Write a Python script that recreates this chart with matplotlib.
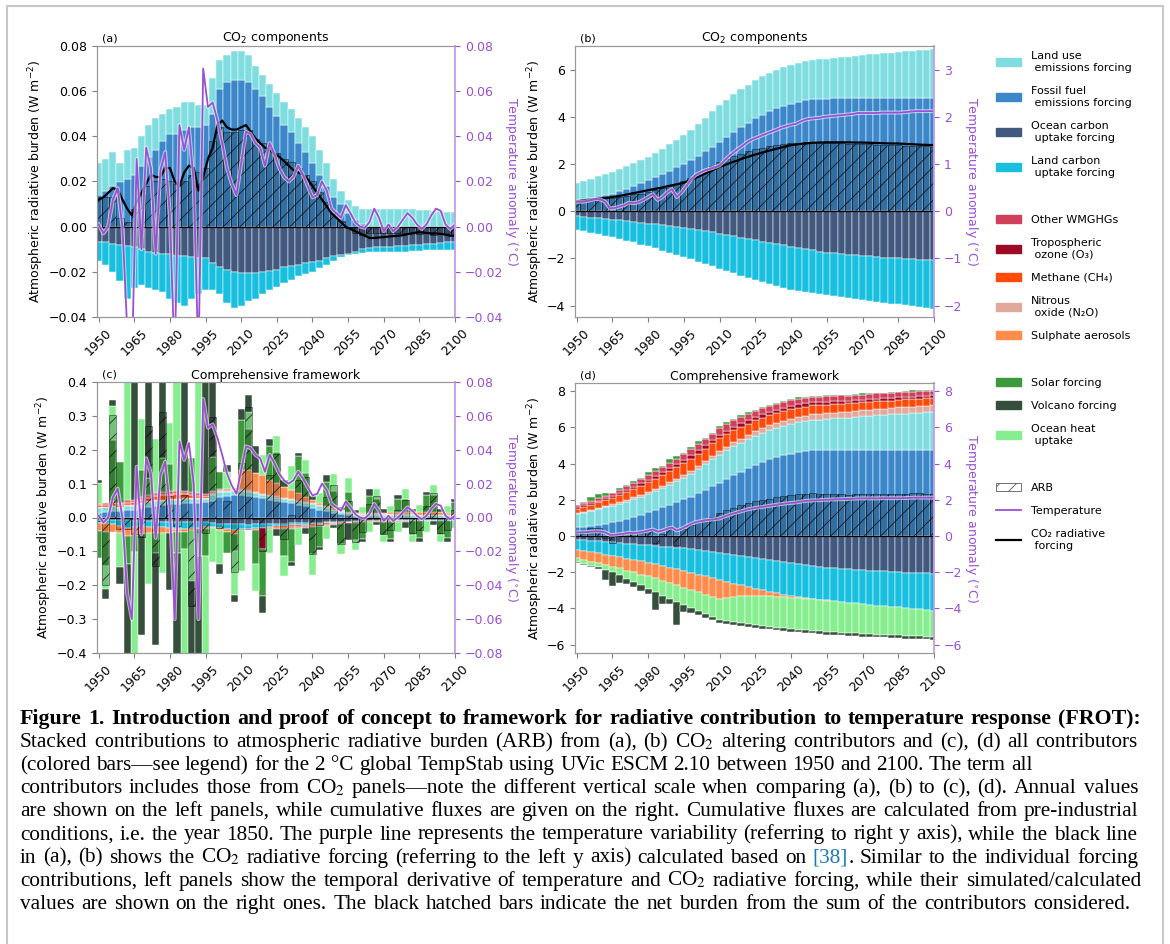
import numpy as np
import matplotlib
matplotlib.use('Agg')
import matplotlib.pyplot as plt
from matplotlib.patches import Patch, Rectangle
from matplotlib.lines import Line2D
import matplotlib.patheffects as pe

# ---------------- data ----------------
years = np.arange(1950, 2101, 3)        # bar grid (3-yr)
line_years = np.arange(1950, 2101, 2)   # line grid (2-yr)

# (a)/(c) annual CO2 components (W m-2 per yr)
fossil_a = [.014, .016, .018, .020, .021,  .023, .027, .031, .034, .038,
            .041, .041, .043, .044, .044,  .045, .050, .061, .064, .065,
            .065, .064, .061, .058, .053,  .049, .045, .042, .037, .033,
            .028, .023, .018, .013, .010,  .006, .003, .001, 0, 0,
            0, 0, 0, 0, 0,  0, 0, 0, 0, 0,  0]
landuse_a = [.014, .014, .015, .008, .013,  .012, .013, .014, .014, .012,
             .011, .012, .012, .011, .010,  .009, .016, .013, .012, .013,
             .013, .012, .010, .009, .010,  .010, .010, .010, .011, .011,
             .012, .011, .010, .008, .006,  .006, .006, .007, .008, .008,
             .008, .008, .008, .008, .008,  .0075, .0075, .007, .007, .0067,  .0067]
ocean_a = [-.0066, -.007, -.0075, -.008, -.0085,  -.009, -.010, -.011, -.0115, -.012,
           -.012, -.013, -.013, -.0135, -.014,  -.014, -.016, -.018, -.019, -.020,
           -.0205, -.0207, -.0205, -.020, -.0195,  -.019, -.018, -.0175, -.017, -.016,
           -.0155, -.015, -.014, -.013, -.0125,  -.012, -.011, -.010, -.0095, -.009,
           -.009, -.0088, -.0086, -.0084, -.008,  -.008, -.0078, -.0075, -.0072, -.007,  -.0068]
landup_a = [-.0084, -.010, -.0125, -.016, -.0235,  -.018, -.016, -.016, -.0165, -.017,
            -.020, -.021, -.022, -.0185, -.016,  -.014, -.012, -.012, -.015, -.016,
            -.0145, -.0123, -.0115, -.010, -.0085,  -.0075, -.007, -.006, -.005, -.005,
            -.0045, -.0035, -.003, -.002, -.001,  -.0005, -.001, -.0015, -.0015, -.002,
            -.002, -.0022, -.0024, -.0026, -.0028,  -.0027, -.0027, -.003, -.0032, -.0033,  -.0035]

# (c) other annual contributors
n2o_c = [.002, .002, .002, .002, .002,  .002, .003, .003, .003, .003,
         .003, .003, .003, .003, .003,  .003, .003, .003, .003, .003,
         .003, .003, .003, .003, .003,  .003, .002, .002, .002, .002,
         .002, .002, .002, .002, .002,  .002, .001, .001, .001, .001,
         .001, .001, .001, .001, .001,  .001, .001, .001, .001, .001,  .001]
ch4_c = [.006, .006, .007, .007, .008,  .008, .009, .010, .011, .012,
         .012, .012, .011, .009, .007,  .005, .004, .003, .003, .003,
         .003, .002, .000, -.002, -.003,  -.004, -.005, -.005, -.005, -.005,
         -.005, -.005, -.004, -.004, -.003,  -.003, -.002, -.002, -.002, -.001,
         -.001, -.001, -.001, -.001, -.001,  -.001, -.001, -.001, -.001, -.001,  -.001]
o3_c = [.002, .002, .002, .002, .002,  .002, .003, .003, .003, .003,
        .003, .003, .003, .003, .002,  .002, .002, .002, .001, .001,
        -.003, -.003, -.003, -.06, -.003,  -.003, -.003, -.003, -.003, -.003,
        -.003, -.002, -.002, -.001, -.001,  -.001, -.001, 0, 0, 0,
        0, 0, 0, 0, 0,  0, 0, 0, 0, 0,  0]
other_c = [.003, .003, .004, .004, .005,  .005, .006, .006, .007, .007,
           .008, .008, .007, .006, .005,  .004, .003, .002, .001, .001,
           .000, .000, -.001, -.001, -.001,  -.001, -.001, -.001, -.001, -.001,
           -.001, -.001, -.001, -.001, -.001,  -.001, 0, 0, 0, 0,
           0, 0, 0, 0, 0,  0, 0, 0, 0, 0,  0]
sulph_c = [-.026, -.025, -.024, -.023, -.024,  -.025, -.022, -.020, -.018, -.016,
           -.013, -.010, -.008, -.006, -.005,  -.005, -.004, -.006, -.010, -.012,
           .055, .060, .058, .055, .045,  .040, .033, .027, .021, .015,
           .010, .007, .005, .004, .003,  .002, .002, .003, .004, .005,
           .005, .006, .006, .006, .006,  .007, .007, .007, .007, .007,  .007]
solar_c = [-.08, -.10, .18, .12, -.08,  -.05, .08, .05, -.06, .10,
           .08, -.06, -.05, .10, -.08,  -.08, .10, .05, -.06, -.05,
           .15, .12, -.10, -.14, .10,  .09, -.08, -.10, .11, .07,
           -.08, -.06, .07, .05, -.06,  .06, -.05, -.05, .05, .04,
           -.04, -.05, .04, .04, -.04,  -.05, .05, .05, -.04, -.05,  .03]
volc_c = [.01, -.03, .02, -.05, -.40,  .45, -.30, .35, -.27, .30,
          -.17, -.45, .45, -.25, -.45,  .45, .25, -.03, .02, -.02,
          .03, .05, .08, -.05, .02,  -.02, .02, -.01, .01, -.02,
          .01, -.01, .02, -.01, .01,  -.05, .01, -.01, .02, -.01,
          .01, -.01, .01, -.02, .01,  -.01, .01, -.01, .01, -.01,  .01]
ohu_c = [.06, -.07, .10, -.10, .45,  -.45, .15, -.15, .16, -.12,
         .12, .45, -.37, -.15, .45,  -.45, -.10, -.10, .05, -.13,
         -.12, .05, -.08, .06, -.07,  .05, -.06, .07, -.05, .04,
         -.06, .03, -.04, .05, -.03,  .04, -.03, .02, -.03, .03,
         -.02, .02, -.03, .03, -.02,  .02, -.03, .03, -.02, .02,  -.02]

# (b)/(d) cumulative CO2 components (W m-2)
fossil_b = [.47, .52, .57, .63, .69,  .75, .84, .95, 1.06, 1.18,
            1.31, 1.44, 1.58, 1.72, 1.86,  2.02, 2.18, 2.36, 2.54, 2.74,
            2.94, 3.15, 3.36, 3.56, 3.75,  3.93, 4.09, 4.23, 4.36, 4.47,
            4.56, 4.64, 4.70, 4.74, 4.76,  4.77, 4.78, 4.78, 4.78, 4.78,
            4.78, 4.78, 4.78, 4.78, 4.78,  4.78, 4.78, 4.78, 4.78, 4.78,  4.78]
landuse_b = [.73, .77, .81, .85, .89,  .92, .94, .95, .97, .98,
             .99, 1.03, 1.07, 1.11, 1.16,  1.20, 1.27, 1.35, 1.42, 1.50,
             1.56, 1.58, 1.59, 1.60, 1.61,  1.62, 1.62, 1.62, 1.62, 1.63,
             1.63, 1.64, 1.65, 1.67, 1.68,  1.70, 1.72, 1.75, 1.77, 1.80,
             1.83, 1.86, 1.89, 1.91, 1.94,  1.97, 1.99, 2.01, 2.04, 2.06,  2.08]
ocean_b = [-.21, -.24, -.27, -.29, -.32,  -.35, -.38, -.42, -.45, -.49,
           -.52, -.55, -.59, -.62, -.65,  -.69, -.74, -.79, -.84, -.90,
           -.95, -1.01, -1.06, -1.12, -1.17,  -1.23, -1.29, -1.34, -1.40, -1.45,
           -1.51, -1.56, -1.61, -1.66, -1.71,  -1.75, -1.78, -1.81, -1.84, -1.87,
           -1.89, -1.91, -1.94, -1.96, -1.98,  -2.00, -2.02, -2.03, -2.05, -2.07,  -2.08]
landup_b = [-.57, -.60, -.64, -.67, -.71,  -.74, -.78, -.83, -.87, -.92,
            -.96, -1.02, -1.08, -1.14, -1.20,  -1.25, -1.30, -1.35, -1.39, -1.44,
            -1.48, -1.52, -1.57, -1.61, -1.65,  -1.69, -1.72, -1.75, -1.77, -1.79,
            -1.81, -1.81, -1.81, -1.81, -1.81,  -1.81, -1.82, -1.83, -1.85, -1.86,
            -1.88, -1.89, -1.91, -1.92, -1.93,  -1.95, -1.97, -1.99, -2.00, -2.02,  -2.04]

# (d) other cumulative contributors
n2o_d = [.06, .06, .07, .07, .08,  .08, .09, .10, .11, .11,
         .12, .13, .14, .14, .15,  .16, .17, .18, .18, .19,
         .20, .21, .22, .23, .24,  .25, .26, .27, .27, .28,
         .29, .30, .30, .31, .31,  .32, .32, .33, .33, .34,
         .34, .34, .35, .35, .35,  .36, .36, .36, .37, .37,  .37]
ch4_d = [.25, .27, .29, .31, .33,  .35, .39, .43, .47, .51,
         .55, .57, .59, .61, .63,  .65, .66, .67, .68, .69,
         .70, .69, .67, .65, .62,  .60, .58, .56, .55, .54,
         .53, .52, .51, .50, .49,  .48, .47, .46, .45, .44,
         .44, .44, .43, .43, .42,  .42, .42, .41, .41, .40,  .40]
o3_d = [.08, .08, .09, .09, .10,  .10, .11, .12, .12, .13,
        .14, .15, .15, .16, .16,  .17, .18, .18, .19, .19,
        .20, .20, .20, .20, .20,  .20, .20, .19, .19, .18,
        .18, .18, .17, .17, .16,  .16, .16, .16, .15, .15,
        .15, .15, .15, .14, .14,  .14, .14, .14, .14, .14,  .14]
other_d = [.10, .11, .12, .13, .14,  .15, .17, .19, .21, .23,
           .25, .27, .29, .30, .32,  .33, .34, .34, .35, .35,
           .36, .36, .35, .34, .33,  .32, .32, .31, .31, .31,
           .31, .30, .30, .30, .29,  .29, .29, .29, .28, .28,
           .28, .28, .28, .27, .27,  .27, .27, .27, .27, .27,  .27]
sulph_d = [-.46, -.49, -.52, -.54, -.57,  -.60, -.63, -.66, -.69, -.72,
           -.75, -.78, -.82, -.85, -.88,  -.92, -.95, -.98, -1.01, -1.03,
           -1.05, -.90, -.75, -.60, -.50,  -.40, -.32, -.25, -.19, -.14,
           -.10, -.07, -.05, -.03, -.02,  -.01, 0, 0, 0, 0,
           0, 0, 0, 0, 0,  0, 0, 0, 0, 0,  0]
solar_d = [.03, .08, .20, .22, .12,  .05, .10, .10, .08, .08,
           .18, .15, .05, .20, .15,  .05, .10, .15, .08, .05,
           .10, .12, .08, .10, .10,  .06, .06, .05, .08, .06,
           .06, .08, .08, .05, .04,  .05, .05, .04, .04, .06,
           .06, .04, .04, .05, .05,  .04, .05, .08, .06, .04,  .04]
ohu_d = [-.20, -.21, -.22, -.24, -.26,  -.30, -.37, -.45, -.52, -.60,
         -.70, -.76, -.81, -.86, -.90,  -.95, -.98, -1.01, -1.06, -1.10,
         -1.15, -1.27, -1.39, -1.47, -1.54,  -1.60, -1.64, -1.68, -1.70, -1.72,
         -1.74, -1.74, -1.74, -1.74, -1.73,  -1.72, -1.71, -1.70, -1.68, -1.66,
         -1.64, -1.62, -1.60, -1.58, -1.57,  -1.54, -1.53, -1.52, -1.50, -1.48,  -1.47]
volc_d = [-.05, -.05, -.08, -.10, -.60,  -.80, -.45, -.30, -.28, -.30,
          -.28, -1.00, -.45, -.30, -1.30,  -.40, -.30, -.25, -.22, -.20,
          -.18, -.17, -.16, -.16, -.15,  -.15, -.16, -.15, -.15, -.16,
          -.15, -.15, -.16, -.15, -.15,  -.16, -.15, -.15, -.16, -.15,
          -.15, -.16, -.15, -.15, -.16,  -.15, -.15, -.16, -.15, -.15,  -.16]

# lines (2-yr grid): temperature derivative, temperature, CO2 RF derivative
dT = [.001, -.003, .000, .012, .017, .000, -.045, -.06, .030, -.010, .035, .026, -.012,
      .025, .033, .005, -.06, .045, .034, .044, .020, -.06, .070, .053, .055,
      .047, .037, .026, .019, .014, .028, .042, .041, .037, .035, .027, .037, .032,
      .026, .022, .020, .022, .027, .023, .018, .013, .014, .020, .016, .008,
      .006, .004, .0095, .006, .002, .000, -.0005, .002, .008, .004, -.002, .001, -.002,
      .000, .003, .006, .004, .001, -.001, .001, .005, .008, .007, .001, -.001, .001]
T = [.20, .20, .21, .24, .26, .25, .20, .06, .07, .10, .13, .18, .17,
     .19, .24, .30, .36, .24, .30, .40, .47, .30, .40, .53, .67,
     .77, .82, .87, .90, .93, .97, 1.07, 1.17, 1.25, 1.33, 1.40, 1.48, 1.53,
     1.57, 1.61, 1.65, 1.69, 1.73, 1.77, 1.80, 1.83, 1.85, 1.90, 1.94, 1.96,
     1.97, 1.98, 2.00, 2.01, 2.02, 2.03, 2.04, 2.05, 2.06, 2.08, 2.08, 2.08, 2.08,
     2.08, 2.09, 2.09, 2.09, 2.09, 2.09, 2.10, 2.11, 2.12, 2.12, 2.12, 2.12, 2.12]
dRF = [.012, .013, .015, .017, .0165, .012, .008, .005, .011, .015, .019, .023, .022,
       .022, .026, .026, .020, .018, .024, .027, .026, .016, .022, .030, .035,
       .045, .047, .044, .043, .043, .044, .045, .042, .039, .037, .035, .034, .032,
       .031, .029, .027, .025, .024, .023, .021, .018, .015, .012, .009, .006,
       .004, .002, .000, -.001, -.002, -.003, -.004, -.005, -.005, -.0048, -.0046, -.0044, -.0042,
       -.004, -.0038, -.0033, -.003, -.0025, -.0025, -.0028, -.003, -.003, -.0032, -.0035, -.004, -.004]
# CO2 radiative forcing, cumulative (3-yr grid)
RF = [.42, .46, .50, .53, .56,  .60, .65, .71, .77, .83,
      .89, .95, 1.01, 1.08, 1.14,  1.21, 1.33, 1.46, 1.60, 1.74,
      1.88, 1.99, 2.10, 2.21, 2.31,  2.40, 2.49, 2.57, 2.65, 2.73,
      2.80, 2.84, 2.87, 2.90, 2.91,  2.92, 2.92, 2.92, 2.92, 2.91,
      2.91, 2.90, 2.89, 2.88, 2.87,  2.87, 2.85, 2.84, 2.82, 2.81,  2.80]

# ---------------- styling ----------------
c_landuse = '#7fdde0'
c_fossil = '#3b87c9'
c_ocean = '#41597f'
c_landup = '#18bfdf'
c_other = '#d0405a'
c_o3 = '#9e0a25'
c_ch4 = '#ff4a0a'
c_n2o = '#e1a99c'
c_sulph = '#ff8c4a'
c_solar = '#3c9a3c'
c_volc = '#354f3c'
c_ohu = '#87ee90'
c_temp = '#9a4fd4'
c_tspine = '#c59ee6'

plt.rcParams['hatch.linewidth'] = 0.6
plt.rcParams['axes.unicode_minus'] = True

W, H = 1170, 944
fig = plt.figure(figsize=(W / 100, H / 100), dpi=100)


def px_axes(l, t, r, b):
    return fig.add_axes([l / W, 1 - b / H, (r - l) / W, (b - t) / H])


def draw_stack(ax, comps):
    pos = np.zeros(len(years))
    neg = np.zeros(len(years))
    for vals, col in comps:
        v = np.asarray(vals, float)
        up = np.clip(v, 0, None)
        dn = np.clip(v, None, 0)
        m = up > 0
        ax.bar(years[m], up[m], width=3, bottom=pos[m], color=col,
               edgecolor='white', linewidth=0.35)
        m = dn < 0
        ax.bar(years[m], dn[m], width=3, bottom=neg[m], color=col,
               edgecolor='white', linewidth=0.35)
        pos += up
        neg += dn
    net = np.sum([np.asarray(v, float) for v, _ in comps], axis=0)
    ax.bar(years, net, width=3, color=(0, 0, 0, 0.18), edgecolor=(0, 0, 0, 0.75),
           hatch='//', linewidth=0.4)
    ax.axhline(0, color='black', lw=0.9)


def style(ax, ylim, rylim, yticks, ryticks, title, letter, label_x, rlabel_x):
    axr = ax.twinx()
    ax.set_xlim(1949.3, 2100)
    ax.set_ylim(*ylim)
    axr.set_ylim(*rylim)
    ax.set_xticks(np.arange(1950, 2101, 15))
    ax.set_yticks(yticks)
    axr.set_yticks(ryticks)
    ax.tick_params(axis='x', labelrotation=45, labelsize=9, color='0.5', length=3.5)
    ax.tick_params(axis='y', labelsize=9, color='0.5', length=3.5)
    axr.tick_params(axis='y', labelsize=9, colors=c_temp, length=3.5)
    for a in (ax, axr):
        for sp in ('left', 'top', 'bottom'):
            a.spines[sp].set_color('0.6')
    ax.spines['right'].set_visible(False)
    axr.spines['right'].set_color(c_tspine)
    axr.spines['right'].set_linewidth(1.3)
    ax.set_ylabel('Atmospheric radiative burden (W m$^{-2}$)', fontsize=9)
    ax.yaxis.set_label_coords(label_x, 0.5)
    axr.set_ylabel('Temperature anomaly ($^{\\circ}$C)', fontsize=9, color=c_temp,
                   rotation=270, va='bottom')
    axr.yaxis.set_label_coords(rlabel_x, 0.5)
    ax.set_title(title, fontsize=9, pad=2)
    ax.text(0.015, 1.008, letter, transform=ax.transAxes, fontsize=8, va='bottom')
    return axr


halo = [pe.withStroke(linewidth=2.8, foreground='white', alpha=0.6)]

# (a)
ax_a = px_axes(97, 46, 455, 317)
draw_stack(ax_a, [(fossil_a, c_fossil), (landuse_a, c_landuse),
                  (ocean_a, c_ocean), (landup_a, c_landup)])
axr_a = style(ax_a, (-0.04, 0.08), (-0.04, 0.08), np.round(np.arange(-0.04, 0.081, 0.02), 2),
              np.round(np.arange(-0.04, 0.081, 0.02), 2), 'CO$_2$ components', '(a)',
              -0.142, 1.134)
ax_a.plot(line_years, dRF, color='black', lw=1.6, zorder=5)
axr_a.plot(line_years, dT, color=c_temp, lw=1.3, path_effects=halo)

# (b)
ax_b = px_axes(575, 46, 934, 317)
draw_stack(ax_b, [(fossil_b, c_fossil), (landuse_b, c_landuse),
                  (ocean_b, c_ocean), (landup_b, c_landup)])
axr_b = style(ax_b, (-4.48, 7.0), (-2.24, 3.5), [-4, -2, 0, 2, 4, 6], [-2, -1, 0, 1, 2, 3],
              'CO$_2$ components', '(b)', -0.084, 1.081)
ax_b.plot(years, RF, color='black', lw=1.6, zorder=5)
axr_b.plot(line_years, T, color=c_temp, lw=1.3, path_effects=halo)

# (c)
ax_c = px_axes(97, 382, 455, 653)
draw_stack(ax_c, [(fossil_a, c_fossil), (landuse_a, c_landuse),
                  (ocean_a, c_ocean), (landup_a, c_landup),
                  (n2o_c, c_n2o), (ch4_c, c_ch4), (o3_c, c_o3), (other_c, c_other),
                  (sulph_c, c_sulph), (solar_c, c_solar), (ohu_c, c_ohu), (volc_c, c_volc)])
axr_c = style(ax_c, (-0.4, 0.4), (-0.08, 0.08), np.round(np.arange(-0.4, 0.41, 0.1), 1),
              np.round(np.arange(-0.08, 0.081, 0.02), 2), 'Comprehensive framework', '(c)',
              -0.12, 1.134)
axr_c.plot(line_years, dT, color=c_temp, lw=1.3, path_effects=halo)

# (d)
ax_d = px_axes(575, 383, 934, 653)
draw_stack(ax_d, [(fossil_b, c_fossil), (landuse_b, c_landuse),
                  (ocean_b, c_ocean), (landup_b, c_landup),
                  (n2o_d, c_n2o), (ch4_d, c_ch4), (o3_d, c_o3), (other_d, c_other),
                  (sulph_d, c_sulph), (solar_d, c_solar), (ohu_d, c_ohu), (volc_d, c_volc)])
axr_d = style(ax_d, (-6.47, 8.46), (-6.47, 8.46), np.arange(-6, 9, 2), np.arange(-6, 9, 2),
              'Comprehensive framework', '(d)', -0.084, 1.081)
axr_d.plot(line_years, T, color=c_temp, lw=1.3, path_effects=halo)

# legend
spacer = Patch(facecolor='none', edgecolor='none')
handles = [Patch(color=c_landuse), Patch(color=c_fossil), Patch(color=c_ocean), Patch(color=c_landup),
           spacer,
           Patch(color=c_other), Patch(color=c_o3), Patch(color=c_ch4), Patch(color=c_n2o),
           Patch(color=c_sulph),
           spacer,
           Patch(color=c_solar), Patch(color=c_volc), Patch(color=c_ohu),
           spacer,
           Patch(facecolor='white', edgecolor='0.35', hatch='//', linewidth=0.6),
           Line2D([], [], color=c_temp, lw=1.3), Line2D([], [], color='black', lw=1.6)]
labels = ['Land use\n emissions forcing', 'Fossil fuel\n emissions forcing',
          'Ocean carbon\n uptake forcing', 'Land carbon\n uptake forcing', ' ',
          'Other WMGHGs', 'Tropospheric\n ozone (O\u2083)', 'Methane (CH\u2084)',
          'Nitrous\n oxide (N\u2082O)', 'Sulphate aerosols', ' ',
          'Solar forcing', 'Volcano forcing', 'Ocean heat\n uptake', ' ',
          'ARB', 'Temperature', 'CO\u2082 radiative\n forcing']
fig.legend(handles, labels, loc='upper left', bbox_to_anchor=(992 / W, 1 - 47 / H),
           frameon=False, fontsize=8, labelspacing=1.2, handlelength=2.2,
           handleheight=0.7, handletextpad=0.9, borderaxespad=0, borderpad=0.4)

# frame around the figure
fig.add_artist(Rectangle((7 / W, -0.01), (1163 - 7) / W, 1 - 6 / H + 0.01,
                         transform=fig.transFigure, fill=False,
                         edgecolor='#c8c8c8', linewidth=1.5))

# ---------------- caption ----------------
caption_title = ('Figure 1. Introduction and proof of concept to framework for radiative '
                 'contribution to temperature response (FROT):')
caption_lines = [
    'Stacked contributions to atmospheric radiative burden (ARB) from (a), (b) CO$_2$ altering contributors and (c), (d) all contributors',
    '(colored bars\u2014see legend) for the 2\u00a0\u00b0C global TempStab using UVic ESCM 2.10 between 1950 and 2100. The term all',
    'contributors includes those from CO$_2$ panels\u2014note the different vertical scale when comparing (a), (b) to (c), (d). Annual values',
    'are shown on the left panels, while cumulative fluxes are given on the right. Cumulative fluxes are calculated from pre-industrial',
    'conditions, i.e. the year 1850. The purple line represents the temperature variability (referring to right y axis), while the black line',
    'in (a), (b) shows the CO$_2$ radiative forcing (referring to the left y axis) calculated based on [38]. Similar to the individual forcing',
    'contributions, left panels show the temporal derivative of temperature and CO$_2$ radiative forcing, while their simulated/calculated',
    'values are shown on the right ones. The black hatched bars indicate the net burden from the sum of the contributors considered.',
]
link_blue = '#1a78b8'
renderer = fig.canvas.get_renderer()


def words_of(line):
    out = []
    for tok in line.split(' '):
        if tok.startswith('[38]'):
            out.append([('[38]', link_blue), (tok[4:], 'black')])
        else:
            out.append([(tok, 'black')])
    return out


def make_texts(words, size, weight, y):
    items, widths = [], []
    for w in words:
        pieces, off = [], 0.0
        for s, col in w:
            if not s:
                continue
            t = fig.text(0, y, s, fontsize=size, fontweight=weight, family='Liberation Serif',
                         math_fontfamily='stix', color=col, va='baseline', ha='left')
            pieces.append((t, off))
            off += t.get_window_extent(renderer).width
        items.append(pieces)
        widths.append(off)
    return items, widths


def natural_width(line, size, weight):
    items, widths = make_texts(words_of(line), size, weight, 0)
    for pieces in items:
        for t, _ in pieces:
            t.remove()
    return sum(widths) + 0.25 * size * 100 / 72 * (len(widths) - 1)


def put_line(line, base_px, size, weight, x0=20, x1=None):
    items, widths = make_texts(words_of(line), size, weight, 1 - base_px / H)
    gap = 0.25 * size * 100 / 72
    if x1 is not None and len(widths) > 1:
        gap = (x1 - x0 - sum(widths)) / (len(widths) - 1)
    x = x0
    for pieces, wd in zip(items, widths):
        for t, off in pieces:
            t.set_x((x + off) / W)
        x += wd + gap


ref_size = 14
longest = max(natural_width(l, ref_size, 'normal') for l in caption_lines)
cap_size = ref_size * 1110 / longest
title_w = natural_width(caption_title, cap_size, 'bold')
title_size = min(cap_size * 1.06, cap_size * 1100 / title_w)

base0, step = 724, 23.1
put_line(caption_title, base0, title_size, 'bold', x1=1141)
right_edges = [1138, None, 1138, 1138, 1138, 1138, 1141, 1130]
for i, (line, xr) in enumerate(zip(caption_lines, right_edges)):
    put_line(line, base0 + step * (i + 1), cap_size, 'normal', x1=xr)

fig.savefig('out.png', dpi=100)
